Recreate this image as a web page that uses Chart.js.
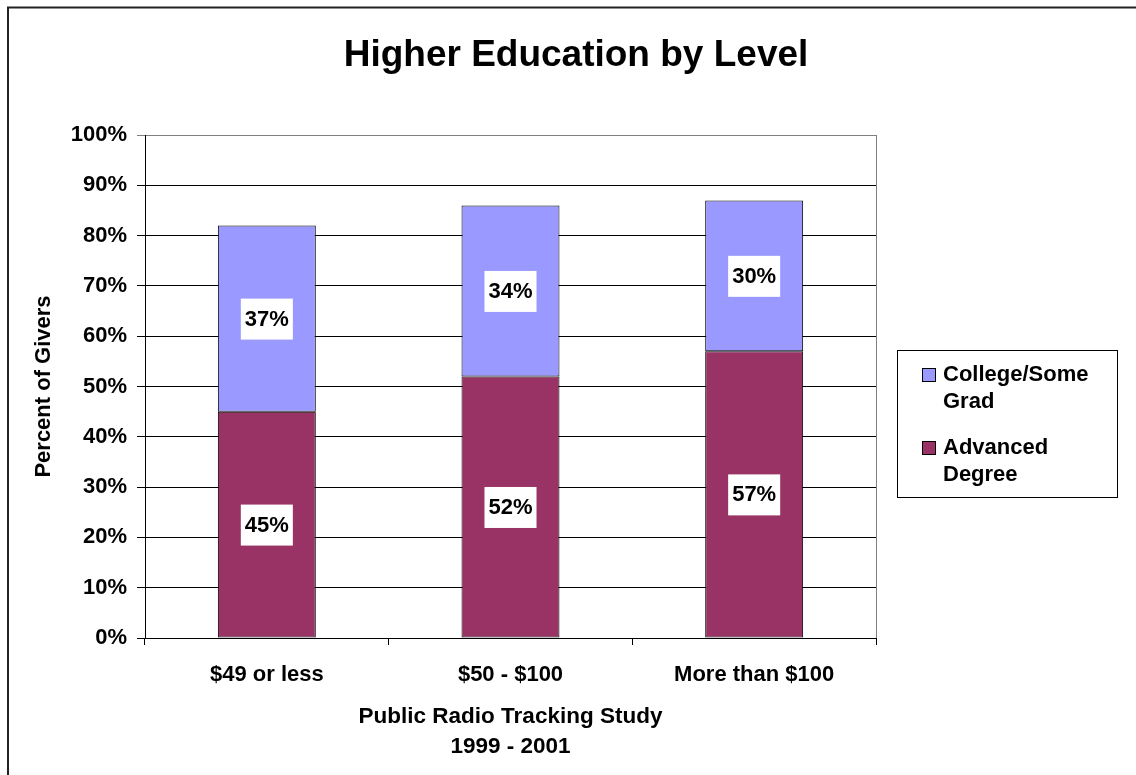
<!DOCTYPE html>
<html>
<head>
<meta charset="utf-8">
<script src="https://cdn.jsdelivr.net/npm/chart.js@4"></script>
<style>
    html, body { margin: 0; padding: 0; background: #fff; }
    #wrap { width: 1136px; height: 775px; }
</style>
</head>
<body>
<div id="wrap"><canvas id="educationChart" width="1136" height="775"></canvas></div>
<script>
const categories = ['$49 or less', '$50 - $100', 'More than $100'];
const advancedDegree = [45, 52, 57];
const collegeSomeGrad = [37, 34, 30];
const yTicks = [0, 10, 20, 30, 40, 50, 60, 70, 80, 90, 100];

const FONT = "'Liberation Sans', Arial, sans-serif";

// Legend entries, drawn in the box on the right
const legendItems = [
    { lines: ['College/Some', 'Grad'], color: '#9999ff' },
    { lines: ['Advanced', 'Degree'], color: '#993366' }
];

const overlay = {
    id: 'overlay',
    afterDatasetsDraw(chart) {
        const ctx = chart.ctx;
        ctx.save();
        ctx.font = 'bold 22px ' + FONT;
        ctx.textAlign = 'center';
        ctx.textBaseline = 'middle';
        chart.data.datasets.forEach((ds, i) => {
            chart.getDatasetMeta(i).data.forEach((bar, j) => {
                const text = ds.data[j] + '%';
                const cy = (bar.y + bar.base) / 2;
                const w = ctx.measureText(text).width + 8;
                ctx.fillStyle = '#fff';
                ctx.fillRect(bar.x - w / 2, cy - 20, w, 41);
                ctx.fillStyle = '#000';
                ctx.fillText(text, bar.x, cy + 1);
            });
        });
        ctx.restore();
    },
    afterDraw(chart) {
        const ctx = chart.ctx;
        const area = chart.chartArea;
        ctx.save();

        // outer frame
        ctx.strokeStyle = '#222';
        ctx.lineWidth = 2;
        ctx.strokeRect(8, 7.5, 2000, 2000);

        // plot area right edge
        ctx.strokeStyle = '#808080';
        ctx.lineWidth = 1;
        ctx.beginPath();
        ctx.moveTo(Math.round(area.right) + 0.5, area.top);
        ctx.lineTo(Math.round(area.right) + 0.5, area.bottom);
        ctx.stroke();

        // title
        ctx.fillStyle = '#000';
        ctx.font = 'bold 37px ' + FONT;
        ctx.textAlign = 'center';
        ctx.textBaseline = 'middle';
        ctx.fillText('Higher Education by Level', 576, 56);

        // legend
        ctx.strokeStyle = '#000';
        ctx.strokeRect(897.5, 350.5, 220, 147);
        ctx.font = 'bold 22px ' + FONT;
        ctx.textAlign = 'left';
        legendItems.forEach((item, i) => {
            const y0 = 375 + i * 73;
            ctx.fillStyle = item.color;
            ctx.fillRect(922, y0 - 7, 14, 14);
            ctx.strokeStyle = '#000';
            ctx.strokeRect(922.5, y0 - 6.5, 13, 13);
            ctx.fillStyle = '#000';
            item.lines.forEach((line, k) => {
                ctx.fillText(line, 943, y0 + k * 27);
            });
        });
        ctx.restore();
    }
};

const ctx = document.getElementById('educationChart').getContext('2d');
new Chart(ctx, {
    type: 'bar',
    data: {
        labels: categories,
        datasets: [
            {
                label: 'Advanced Degree',
                data: advancedDegree,
                backgroundColor: '#993366',
                borderColor: '#000',
                borderWidth: 1,
                borderSkipped: false
            },
            {
                label: 'College/Some Grad',
                data: collegeSomeGrad,
                backgroundColor: '#9999ff',
                borderColor: '#000',
                borderWidth: 1,
                borderSkipped: false
            }
        ]
    },
    options: {
        responsive: false,
        animation: false,
        layout: { padding: { top: 135, right: 260, left: 0, bottom: 0 } },
        categoryPercentage: 1,
        barPercentage: 0.402,
        plugins: {
            legend: { display: false },
            title: { display: false },
            tooltip: { enabled: false }
        },
        scales: {
            x: {
                stacked: true,
                afterFit: (scale) => { scale.height = 137; },
                grid: { offset: true, drawOnChartArea: false, tickLength: 7, color: '#000' },
                border: { color: '#000' },
                ticks: { color: '#000', padding: 17, font: { family: FONT, size: 22, weight: 'bold' } },
                title: {
                    display: true,
                    text: ['Public Radio Tracking Study', '1999 - 2001'],
                    color: '#000',
                    font: { family: FONT, size: 22.5, weight: 'bold', lineHeight: 1.3 },
                    padding: { top: 0, bottom: 14 }
                }
            },
            y: {
                stacked: true,
                min: 0,
                max: 100,
                afterFit: (scale) => { scale.width = 145; },
                afterBuildTicks: (scale) => { scale.ticks = yTicks.map(v => ({ value: v })); },
                grid: {
                    color: (c) => c.tick && c.tick.value === 100 ? '#808080' : '#000',
                    tickLength: 8
                },
                border: { color: '#000' },
                ticks: {
                    color: '#000',
                    padding: 10,
                    font: { family: FONT, size: 22, weight: 'bold' },
                    callback: (v) => v + '%'
                },
                title: {
                    display: true,
                    text: 'Percent of Givers',
                    color: '#000',
                    font: { family: FONT, size: 22, weight: 'bold' },
                    padding: { top: 31, bottom: 0 }
                }
            }
        }
    },
    plugins: [overlay]
});
</script>
</body>
</html>
